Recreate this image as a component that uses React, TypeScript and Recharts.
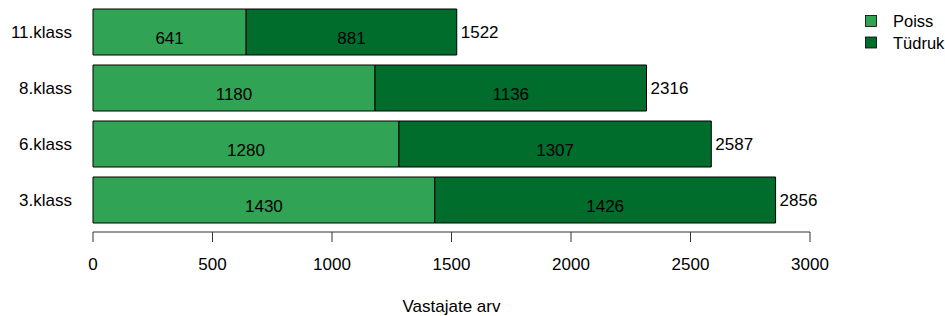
import React from "react";
import { BarChart, Bar, XAxis, YAxis, LabelList, Label } from "recharts";

const categories = ["11.klass", "8.klass", "6.klass", "3.klass"];
const poiss = [641, 1180, 1280, 1430];
const tudruk = [881, 1136, 1307, 1426];
const xTicks = [0, 500, 1000, 1500, 2000, 2500, 3000];
const legendLabels = ["Poiss", "Tüdruk"];

const COLORS = { poiss: "#31a354", tudruk: "#006d2c" };
const FONT = "'Liberation Sans', Arial, sans-serif";

const data = categories.map((c, i) => ({
  name: c,
  Poiss: poiss[i],
  Tüdruk: tudruk[i],
  total: poiss[i] + tudruk[i],
}));

const InnerLabel = (props: any) => {
  const { x, y, width, height, value } = props;
  return (
    <text
      x={x + width / 2}
      y={y + height / 2 + 6}
      textAnchor="middle"
      dominantBaseline="central"
      fontSize={17}
      fontFamily={FONT}
      fill="#000"
    >
      {value}
    </text>
  );
};

const TotalLabel = (props: any) => {
  const { x, y, width, height, value } = props;
  return (
    <text
      x={x + width + 4}
      y={y + height / 2}
      textAnchor="start"
      dominantBaseline="central"
      fontSize={17}
      fontFamily={FONT}
      fill="#000"
    >
      {value}
    </text>
  );
};

const LegendBox = () => {
  const colors = [COLORS.poiss, COLORS.tudruk];
  return (
    <svg
      width={90}
      height={60}
      style={{ position: "absolute", left: 855, top: 0, overflow: "visible" }}
    >
      {legendLabels.map((label, i) => (
        <g key={label}>
          <rect x={10.5} y={15.5 + i * 21.5} width={11} height={11} fill={colors[i]} stroke="#000" strokeWidth={0.8} />
          <text x={38} y={21 + i * 21.5} dominantBaseline="central" fontSize={16.5} fontFamily={FONT} fill="#000">
            {label}
          </text>
        </g>
      ))}
    </svg>
  );
};

export default function App() {
  return (
    <div style={{ position: "absolute", left: 0, top: 0, width: 945, height: 316, background: "#fff" }}>
      <BarChart
        width={945}
        height={316}
        data={data}
        layout="vertical"
        margin={{ top: 4, right: 135, bottom: 0, left: 0 }}
        barCategoryGap={5}
      >
        <XAxis
          type="number"
          domain={[0, 3000]}
          ticks={xTicks}
          height={84}
          tickSize={10}
          tickMargin={16}
          stroke="#333"
          tick={{ fontSize: 17, fontFamily: FONT, fill: "#000" }}
          interval={0}
        >
          <Label
            value="Vastajate arv"
            position="insideBottom"
            offset={4}
            style={{ fontSize: 17, fontFamily: FONT, fill: "#000" }}
          />
        </XAxis>
        <YAxis
          type="category"
          dataKey="name"
          width={93}
          axisLine={false}
          tickLine={false}
          tickSize={0}
          tickMargin={21}
          padding={{ top: 0, bottom: 4 }}
          tick={{ fontSize: 17, fontFamily: FONT, fill: "#000" }}
        />
        <Bar dataKey="Poiss" stackId="a" fill={COLORS.poiss} stroke="#000" strokeWidth={1} isAnimationActive={false}>
          <LabelList dataKey="Poiss" content={<InnerLabel />} />
        </Bar>
        <Bar dataKey="Tüdruk" stackId="a" fill={COLORS.tudruk} stroke="#000" strokeWidth={1} isAnimationActive={false}>
          <LabelList dataKey="Tüdruk" content={<InnerLabel />} />
          <LabelList dataKey="total" content={<TotalLabel />} />
        </Bar>
      </BarChart>
      <LegendBox />
    </div>
  );
}
